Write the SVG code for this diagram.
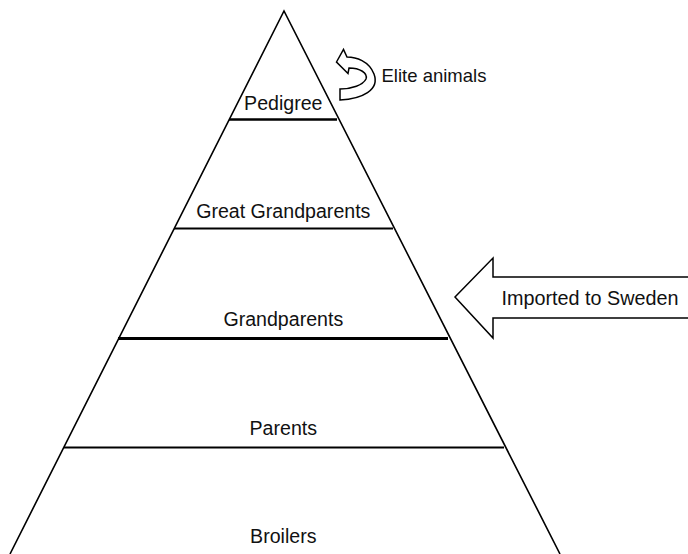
<svg xmlns="http://www.w3.org/2000/svg" width="688" height="554" viewBox="0 0 688 554">
<style>
.lbl{font-family:"Liberation Sans",Arial,Helvetica,sans-serif;font-size:19.6px;fill:#111;text-anchor:middle}
.side{font-family:"Liberation Sans",Arial,Helvetica,sans-serif;font-size:18.5px;fill:#111}
.edge{stroke:#000;stroke-width:1.6;fill:none}
.shape{stroke:#000;stroke-width:1.5;fill:#fff;stroke-linejoin:miter}
</style>
<rect width="688" height="554" fill="#fff"/>
<g id="pyramid">
<path class="edge" d="M10 554 L284 11 L560 554"/>
</g>
<g id="levels">
<line x1="229" y1="119.5" x2="337" y2="119.5" stroke="#000" stroke-width="2.6"/>
<line x1="174" y1="228.5" x2="393" y2="228.5" stroke="#000" stroke-width="2"/>
<line x1="118" y1="338.5" x2="448" y2="338.5" stroke="#000" stroke-width="3"/>
<line x1="64" y1="447.5" x2="504" y2="447.5" stroke="#000" stroke-width="2.2"/>
</g>
<g id="pedigree"><text class="lbl" x="283.3" y="110">Pedigree</text></g>
<g id="great-grandparents"><text class="lbl" x="283.3" y="218">Great Grandparents</text></g>
<g id="grandparents"><text class="lbl" x="283.3" y="325.5">Grandparents</text></g>
<g id="parents"><text class="lbl" x="283.3" y="435">Parents</text></g>
<g id="broilers"><text class="lbl" x="283.3" y="543">Broilers</text></g>
<g id="connectors">
<path id="elite-arrow" class="shape" d="M340 100 C362 99 380 90 374 74 C369 61 356 57 347 57 L343.5 49.5 L336.5 62 L348 73.5 L349 68 C360 68 368 73 366 79 C363 85 352 89 340 89 Z"/>
<path id="import-arrow" class="shape" d="M690 277 L493 277 L493 258 L455 297 L493 338 L493 318 L690 318"/>
</g>
<g id="elite-label"><text class="side" x="381.5" y="82">Elite animals</text></g>
<g id="import-label"><text class="side" x="501.5" y="305" style="font-size:19.8px">Imported to Sweden</text></g>
</svg>
